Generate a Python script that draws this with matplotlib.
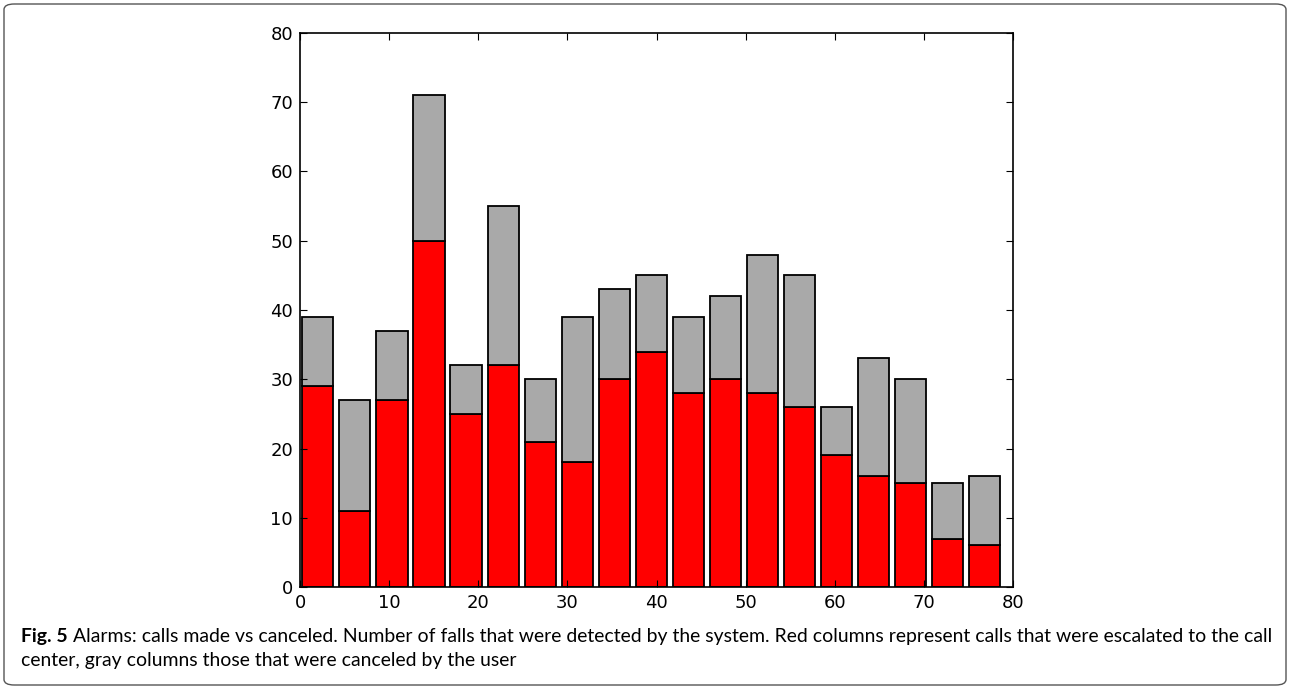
import numpy as np
import matplotlib.pyplot as plt
from matplotlib.patches import FancyBboxPatch

# values (total height of each column and the red part)
total_calls = [39, 27, 37, 71, 32, 55, 30, 39, 43, 45, 39, 42, 48, 45, 26, 33, 30, 15, 16]
escalated = [29, 11, 27, 50, 25, 32, 21, 18, 30, 34, 28, 30, 28, 26, 19, 16, 15, 7, 6]
canceled = [t - e for t, e in zip(total_calls, escalated)]
x_ticks = [0, 10, 20, 30, 40, 50, 60, 70, 80]
y_ticks = [0, 10, 20, 30, 40, 50, 60, 70, 80]

caption_bold = "Fig. 5"
caption_line1 = (" Alarms: calls made vs canceled. Number of falls that were detected by the system. "
                 "Red columns represent calls that were escalated to the call")
caption_line2 = "center, gray columns those that were canceled by the user"
cap_font = 'Lato'

fig = plt.figure(figsize=(12.9, 6.89), dpi=100)
ax = fig.add_axes([300 / 1290, 1 - 587 / 689, 713 / 1290, 554 / 689])

step = 79 / 19
pos = 2.0 + np.arange(len(total_calls)) * step
bar_kw = {'width': 3.5, 'edgecolor': 'black', 'linewidth': 1.3}
ax.bar(pos, escalated, color='#ff0000', **bar_kw)
ax.bar(pos, canceled, bottom=escalated, color='#a9a9a9', **bar_kw)

ax.set_xlim(0, 80)
ax.set_ylim(0, 80)
ax.set_xticks(x_ticks)
ax.set_yticks(y_ticks)
ax.tick_params(direction='in', length=5, width=0.8, top=True, right=True,
               labelsize=13, pad=5)
for s in ax.spines.values():
    s.set_linewidth(1.2)

# caption
fig.canvas.draw()
r = fig.canvas.get_renderer()
t1 = fig.text(21 / 1290, 1 - 642 / 689, caption_bold, fontsize=14,
              fontweight='bold', family=cap_font, va='baseline')
bb = t1.get_window_extent(r)
t2 = fig.text(bb.x1 / 1290, 1 - 642 / 689, caption_line1, fontsize=14,
              family=cap_font, va='baseline')
bb2 = t2.get_window_extent(r)
# squeeze font size so first line ends near the right border
scale = (1271 - 21) / (bb2.x1 - bb.x0)
fs = 14 * scale
t1.set_fontsize(fs)
t2.set_fontsize(fs)
bb = t1.get_window_extent(r)
t2.set_x(bb.x1 / 1290)
fig.text(21 / 1290, 1 - 666 / 689, caption_line2, fontsize=fs,
         family=cap_font, va='baseline')

frame = FancyBboxPatch((4 / 1290, 4 / 689), 1282 / 1290, 681 / 689,
                       boxstyle='round,pad=0,rounding_size=0.008',
                       transform=fig.transFigure, fill=False,
                       edgecolor='#555555', linewidth=1.0)
fig.patches.append(frame)

fig.savefig('out.png', dpi=100)
